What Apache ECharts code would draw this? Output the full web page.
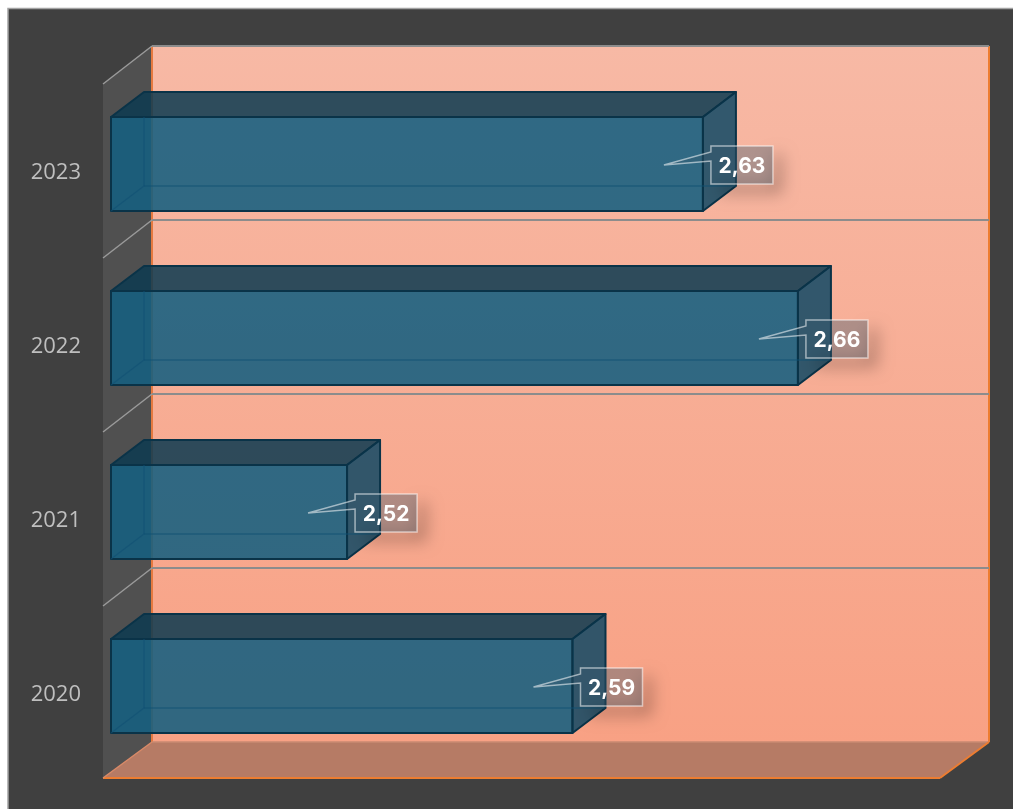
<!DOCTYPE html>
<html>
<head>
<meta charset="utf-8">
<script src="https://cdn.jsdelivr.net/npm/echarts@6/dist/echarts.min.js"></script>
<style>html,body{margin:0;padding:0;background:#fff;overflow:hidden}#c{width:1013px;height:809px}</style>
</head>
<body>
<div id="c"></div>
<script>
const categories = ['2020', '2021', '2022', '2023'];
const values = [2.59, 2.52, 2.66, 2.6305];
const axisMin = 2.4467;
const axisMax = 2.7066;

const chart = echarts.init(document.getElementById('c'), null, {renderer: 'canvas'});

function poly(points, style, z2) {
  return {type: 'polygon', shape: {points}, style, z2: z2 || 0, silent: true};
}
function line(x1, y1, x2, y2, stroke, lineWidth) {
  return {type: 'line', shape: {x1, y1, x2, y2}, style: {stroke, lineWidth, fill: null}, silent: true};
}

function renderWalls(params, api) {
  const cs = params.coordSys;
  const fx = cs.x - 8;
  const fw = cs.width;
  const dx = 49, dy = -38;
  const floorFront = cs.y + cs.height + 5;
  const topFront = cs.y + 7;
  const band = cs.height / categories.length;
  const bx = fx + dx, bx2 = fx + fw + dx;
  const backTop = topFront + dy, backBottom = floorFront - 36;
  const kids = [];
  kids.push(poly([[fx, topFront], [bx, backTop], [bx, backBottom], [fx, floorFront]], {fill: '#505050'}));
  kids.push({type: 'rect', shape: {x: bx, y: backTop, width: bx2 - bx, height: backBottom - backTop}, style: {
    fill: {type: 'linear', x: 0, y: 0, x2: 0, y2: 1, colorStops: [
      {offset: 0, color: '#f7b9a5'}, {offset: 1, color: '#f8a184'}
    ]}
  }, silent: true});
  kids.push(poly([[fx, floorFront], [bx, backBottom], [bx2, backBottom], [fx + fw, floorFront]], {fill: '#b67b65'}));
  kids.push(line(bx, backTop, bx, backBottom, '#e5793f', 2));
  kids.push(line(bx2, backTop, bx2, backBottom, '#ed7d31', 2));
  kids.push(line(bx, backBottom, bx2, backBottom, '#c98a72', 1.5));
  kids.push(line(fx, floorFront, fx + fw, floorFront, '#ed7d31', 2));
  kids.push(line(fx + fw, floorFront, bx2, backBottom, '#ed7d31', 2));
  kids.push(line(fx, floorFront, bx, backBottom, '#d98a68', 1.5));
  for (let i = 0; i < categories.length; i++) {
    const fy = topFront + i * band;
    kids.push(line(fx, fy, bx, fy + dy, '#9a9a9a', 1.5));
    kids.push(line(bx, fy + dy, bx2, fy + dy, '#8c8c8c', 2));
  }
  return {type: 'group', children: kids};
}

function renderBar(params, api) {
  const cat = api.value(1);
  const end = api.coord([api.value(0), cat]);
  const start = api.coord([axisMin, cat]);
  const h = api.size([0, 1])[1] * 0.54;
  const x0 = start[0], x1 = end[0], y0 = end[1] - h / 2, y1 = end[1] + h / 2;
  const dx = 33, dy = -25;
  const edge = '#0a3348';
  const back = 'rgba(16,80,115,0.6)';
  const edgeStyle = {stroke: edge, lineWidth: 2, lineJoin: 'round'};
  return {type: 'group', children: [
    poly([[x0, y0], [x1, y0], [x1, y1], [x0, y1]], Object.assign({fill: 'rgba(21,94,128,0.88)'}, edgeStyle)),
    poly([[x0, y0], [x0 + dx, y0 + dy], [x1 + dx, y0 + dy], [x1, y0]], Object.assign({fill: 'rgba(13,58,80,0.86)'}, edgeStyle)),
    poly([[x1, y0], [x1 + dx, y0 + dy], [x1 + dx, y1 + dy], [x1, y1]], Object.assign({fill: 'rgba(17,72,100,0.86)'}, edgeStyle)),
    line(x0 + dx, y1 + dy, x1, y1 + dy, back, 1.6),
    line(x1, y1 + dy, x1 + dx, y1 + dy, back, 1.6),
    line(x0 + dx, y0, x0 + dx, y1 + dy, back, 1.4),
    line(x0, y1, x0 + dx, y1 + dy, back, 1.4)
  ]};
}

function renderLabel(params, api) {
  const p = api.coord([api.value(0), api.value(1)]);
  const bx = p[0] + 8, by = p[1] - 18, bw = 62, bh = 38;
  const tipX = p[0] - 39, tipY = p[1] + 1;
  const text = api.value(0).toFixed(2).replace('.', ',');
  const off = 3000;
  const s = 9;
  return {type: 'group', children: [
    poly([
      [bx + bw - off, by + s], [bx + bw + s - off, by + s], [bx + bw + s - off, by + bh + s],
      [bx + s - off, by + bh + s], [bx + s - off, by + bh], [bx + bw - off, by + bh]
    ], {fill: '#000', shadowBlur: 16, shadowOffsetX: off, shadowOffsetY: 0, shadowColor: 'rgba(0,0,0,0.3)'}),
    poly([[bx, by], [bx + bw, by], [bx + bw, by + bh], [bx, by + bh], [bx, by + 15], [tipX, tipY], [bx, by + 6]], {
      fill: 'rgba(55,90,110,0.38)',
      stroke: 'rgba(255,255,255,0.55)',
      lineWidth: 1.5
    }),
    {type: 'text', style: {
      x: bx + bw / 2, y: by + bh / 2 + 2, text,
      fill: '#ffffff', font: 'bold 21px Inter', align: 'center', verticalAlign: 'middle'
    }, silent: true}
  ]};
}

const barData = values.map((v, i) => [v, i]);

chart.setOption({
  animation: false,
  backgroundColor: '#ffffff',
  graphic: [{
    type: 'rect', z: -10, silent: true,
    shape: {x: 8, y: 8.5, width: 1020, height: 820},
    style: {fill: '#404040', stroke: '#a3a3a3', lineWidth: 1.5}
  }],
  grid: {left: 111, top: 77, width: 837, height: 696, containLabel: false},
  xAxis: {type: 'value', min: axisMin, max: axisMax, show: false},
  yAxis: {
    type: 'category', data: categories,
    axisLine: {show: false}, axisTick: {show: false}, splitLine: {show: false},
    axisLabel: {
      margin: 30, color: '#bfbfbf', fontSize: 22, fontFamily: 'Open Sans',
      verticalAlign: 'top', lineHeight: 17
    }
  },
  series: [
    {type: 'custom', coordinateSystem: 'cartesian2d', renderItem: renderWalls, data: [[axisMin, 0]], z: 1, silent: true, encode: {x: 0, y: 1}},
    {type: 'custom', coordinateSystem: 'cartesian2d', renderItem: renderBar, data: barData, z: 2, silent: true, encode: {x: 0, y: 1}},
    {type: 'custom', coordinateSystem: 'cartesian2d', renderItem: renderLabel, data: barData, z: 3, silent: true, encode: {x: 0, y: 1}}
  ]
});
</script>
</body>
</html>
